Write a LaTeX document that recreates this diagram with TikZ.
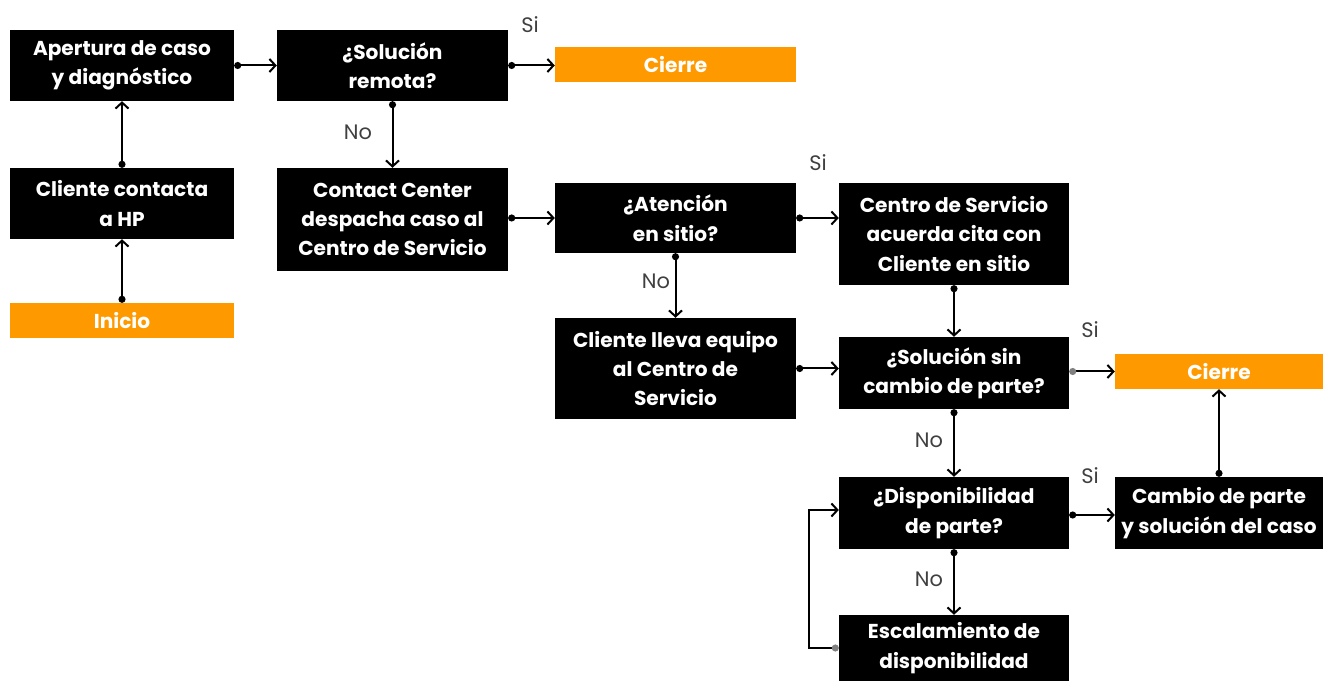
\documentclass[tikz,border=0pt]{standalone}
\usepackage{fontspec}
\setmainfont{Poppins}
\usetikzlibrary{arrows.meta}
\definecolor{hporange}{rgb}{1.0,0.6,0.0}
\definecolor{labelcol}{rgb}{0.25,0.25,0.25}
\tikzset{
  stepbox/.style={fill=black,text=white,align=center,inner sep=0pt,
    font=\bfseries\fontsize{20.2}{29.5}\selectfont},
  endbox/.style={fill=hporange,text=white,align=center,inner sep=0pt,
    minimum height=35bp,font=\bfseries\fontsize{20.2}{29.5}\selectfont},
  answer/.style={text=labelcol,inner sep=0pt,font=\fontsize{21}{22}\selectfont},
  flow/.style={line width=2bp,{Circle[length=7bp,width=7bp]}-{Straight Barb[length=6bp,width=13bp]}},
  flowgray/.style={line width=2bp,{Circle[length=7bp,width=7bp,color=gray]}-{Straight Barb[length=6bp,width=13bp]}},
}
\begin{document}
\begin{tikzpicture}[line join=miter]
\useasboundingbox (0bp,0bp) rectangle (1323bp,681bp);
%%
  \node (apertura) at (122bp,615.5bp) [stepbox,minimum width=224bp,minimum height=71bp] {Apertura de caso\\y diagnóstico};
  \node (remota) at (392.5bp,615.5bp) [stepbox,minimum width=231bp,minimum height=71bp] {¿Solución\\remota?};
  \node (cierreA) at (675.5bp,616.5bp) [endbox,minimum width=241bp] {Cierre};
  \node (cliente) at (122bp,477.5bp) [stepbox,minimum width=224bp,minimum height=71bp] {Cliente contacta\\a HP};
  \node (contact) at (392.5bp,461.5bp) [stepbox,minimum width=231bp,minimum height=103bp] {Contact Center\\despacha caso al\\Centro de Servicio};
  \node (inicio) at (122bp,360.5bp) [endbox,minimum width=224bp] {Inicio};
  \node (atencion) at (675.5bp,463bp) [stepbox,minimum width=241bp,minimum height=70bp] {¿Atención\\en sitio?};
  \node (centro) at (954bp,447bp) [stepbox,minimum width=230bp,minimum height=102bp] {Centro de Servicio\\acuerda cita con\\Cliente en sitio};
  \node (lleva) at (675.5bp,312.5bp) [stepbox,minimum width=241bp,minimum height=101bp] {Cliente lleva equipo\\al Centro de\\Servicio};
  \node (sinparte) at (954bp,308bp) [stepbox,minimum width=230bp,minimum height=72bp] {¿Solución sin\\cambio de parte?};
  \node (cierreB) at (1219bp,309.5bp) [endbox,minimum width=208bp] {Cierre};
  \node (dispo) at (954bp,168bp) [stepbox,minimum width=230bp,minimum height=72bp] {¿Disponibilidad\\de parte?};
  \node (cambio) at (1219bp,168bp) [stepbox,minimum width=208bp,minimum height=72bp] {Cambio de parte\\y solución del caso};
  \node (escala) at (954bp,33bp) [stepbox,minimum width=230bp,minimum height=66bp] {Escalamiento de\\disponibilidad};
%
  \draw [flow] (inicio) -- (cliente);
  \draw [flow] (cliente) -- (apertura);
  \draw [flow] (apertura) -- (remota);
  \draw [flow] (remota) -- (remota -| cierreA.west);
  \node (siA) at (530bp,656bp) [answer] {Si};
  \draw [flow] (remota) -- (contact);
  \node (noA) at (358bp,549bp) [answer] {No};
  \draw [flow] (contact.east |- atencion) -- (atencion);
  \draw [flow] (atencion) -- (atencion -| centro.west);
  \node (siB) at (818bp,518bp) [answer] {Si};
  \draw [flow] (atencion) -- (lleva);
  \node (noB) at (656bp,400bp) [answer] {No};
  \draw [flow] (lleva.east) -- (lleva.east -| sinparte.west);
  \draw [flow] (centro) -- (sinparte);
  \draw [flowgray] (sinparte.east |- cierreB) -- (cierreB);
  \node (siC) at (1090bp,351bp) [answer] {Si};
  \draw [flow] (sinparte) -- (dispo);
  \node (noC) at (929bp,241bp) [answer] {No};
  \draw [flow] ([yshift=-2bp]dispo.east) -- ([yshift=-2bp]dispo.east -| cambio.west);
  \node (siD) at (1090bp,205bp) [answer] {Si};
  \draw [flow] (cambio.north) -- (cierreB.south);
  \draw [flow] (dispo) -- (escala);
  \node (noD) at (929bp,102bp) [answer] {No};
  \draw [flowgray] (escala.west) -- ++(-30bp,0) |- ([yshift=3bp]dispo.west);
%
\end{tikzpicture}
\end{document}
